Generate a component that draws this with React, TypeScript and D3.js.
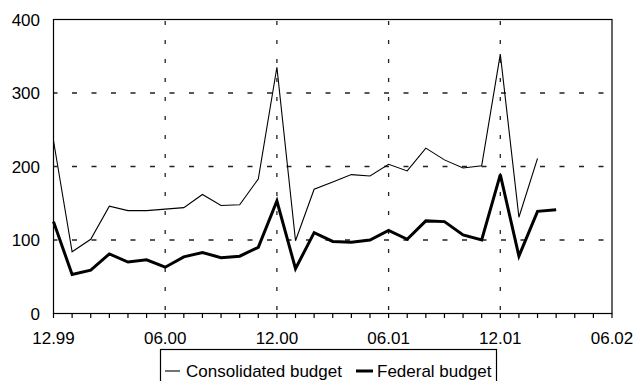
import React from "react";
import * as d3 from "d3";

const tickLabels = ["12.99", "06.00", "12.00", "06.01", "12.01", "06.02"];
const consolidated = [235, 84, 101, 146, 140, 140, 142, 144, 162, 147, 148, 183, 335, 99, 169, 179, 189, 187, 203, 194, 225, 209, 198, 201, 353, 131, 211];
const federal = [125, 53, 59, 81, 70, 73, 63, 77, 83, 76, 78, 90, 153, 61, 110, 98, 97, 100, 113, 101, 126, 125, 107, 100, 189, 78, 139, 141];
const yTicks = [0, 100, 200, 300, 400];
const months = d3.range(0, 31);
const seriesNames = ["Consolidated budget", "Federal budget"];

const W = 636, H = 381;
const L = 53.5, R = 612, T = 19.5, B = 313.5;

export default function App() {
  const x = d3.scaleLinear().domain([0, 30]).range([L, R]);
  const y = d3.scaleLinear().domain([0, 400]).range([B, T]);
  const line = d3.line<number>().x((_, i) => x(i)).y((d) => y(d));
  const font = "'Liberation Sans', Arial, sans-serif";
  return (
    <svg width={W} height={H} style={{ position: "absolute", left: 0, top: 0, background: "#fff" }} fontFamily={font}>
      {yTicks.filter((v) => v > 0 && v < 400).map((v) => (
        <line key={"h" + v} x1={L} x2={R} y1={y(v)} y2={y(v)} stroke="#222" strokeWidth={1.3} strokeDasharray="5 14.5" strokeDashoffset={-18.5} />
      ))}
      {tickLabels.map((_, k) => k * 6).filter((m) => m > 0 && m < 30).map((m) => (
        <line key={"v" + m} x1={x(m)} x2={x(m)} y1={T} y2={B} stroke="#222" strokeWidth={1.3} strokeDasharray="4 15" strokeDashoffset={-1.5} />
      ))}
      <rect x={L} y={T} width={R - L} height={B - T} fill="none" stroke="#000" strokeWidth={1.2} />
      {months.map((m) => (
        <line key={"t" + m} x1={x(m)} x2={x(m)} y1={B} y2={B + 4.5} stroke="#000" strokeWidth={1.2} />
      ))}
      {yTicks.map((v) => (
        <text key={"yl" + v} x={40} y={y(v)} dy="0.36em" textAnchor="end" fontSize={17}>{v}</text>
      ))}
      {tickLabels.map((t, k) => (
        <text key={"xl" + t} x={x(k * 6)} y={344} textAnchor="middle" fontSize={17}>{t}</text>
      ))}
      <path d={line(consolidated) || ""} fill="none" stroke="#000" strokeWidth={1.1} strokeLinejoin="miter" />
      <path d={line(federal) || ""} fill="none" stroke="#000" strokeWidth={3} strokeLinejoin="miter" />
      <rect x={160.5} y={349.5} width={336} height={40} fill="#fff" stroke="#000" strokeWidth={1.2} />
      <line x1={165} x2={180} y1={371} y2={371} stroke="#000" strokeWidth={1.1} />
      <text x={186} y={376.5} fontSize={17}>{seriesNames[0]}</text>
      <line x1={356} x2={373} y1={371} y2={371} stroke="#000" strokeWidth={3} />
      <text x={377} y={376.5} fontSize={17}>{seriesNames[1]}</text>
    </svg>
  );
}
